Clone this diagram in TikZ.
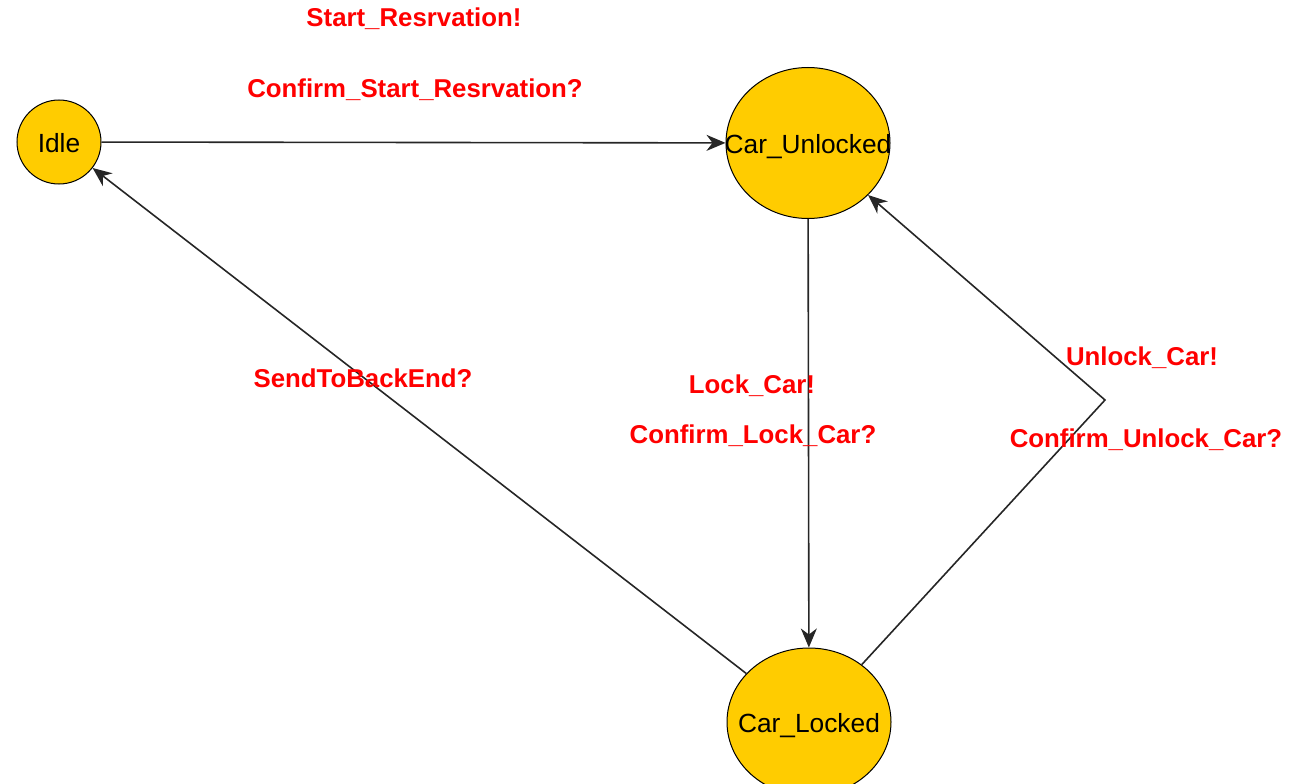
\documentclass[tikz,border=0pt]{standalone}
\usepackage{fontspec}
\setmainfont{Liberation Sans}
\usetikzlibrary{shapes.geometric,arrows.meta}
\definecolor{stateyellow}{RGB}{255,204,0}
\definecolor{msgred}{RGB}{255,0,0}
% state name set in a zero-size box so that the ellipse keeps its given size
\newcommand{\statename}[1]{\makebox[0pt][c]{\raisebox{-10pt}{#1}}}
\tikzset{
  state/.style={ellipse, draw=black, line width=1pt, fill=stateyellow, inner sep=0pt,
    font=\fontsize{26.3}{30}\selectfont, text height=0pt, text depth=0pt},
  msg/.style={anchor=base, text=msgred, font=\bfseries\fontsize{25.8}{30}\selectfont, inner sep=0pt},
  trans/.style={draw=black!85, line width=1.6pt, -{Stealth[length=19pt,width=16pt,inset=6pt]}}
}
\begin{document}
\begin{tikzpicture}[x=1pt,y=-1pt]
  \useasboundingbox (0,0) rectangle (1291,784);

  % states
  \node[state, minimum width=84pt, minimum height=84pt] (idle) at (59,142) {\statename{Idle}};
  \node[state, minimum width=164pt, minimum height=151pt] (unlocked) at (808,143) {\statename{Car\_Unlocked}};
  \node[state, minimum width=164pt, minimum height=148pt] (locked) at (809,722) {\statename{Car\_Locked}};

  % bend point of the unlock transition
  \coordinate (bend) at (1105,400);

  % transitions
  \draw[trans] (idle) -- (unlocked);
  \draw[trans] (unlocked) -- (locked);
  \draw[trans] (locked) -- (idle);
  \draw[trans] (locked) -- (bend) -- (unlocked);

  % synchronisation labels
  \node[msg] (l1) at (414,27) {Start\_Resrvation!};
  \node[msg] (l2) at (415,97) {Confirm\_Start\_Resrvation?};
  \node[msg] (l3) at (363,387) {SendToBackEnd?};
  \node[msg] (l4) at (752,393) {Lock\_Car!};
  \node[msg] (l5) at (753,443) {Confirm\_Lock\_Car?};
  \node[msg] (l6) at (1142,365) {Unlock\_Car!};
  \node[msg] (l7) at (1146,447) {Confirm\_Unlock\_Car?};
\end{tikzpicture}
\end{document}
